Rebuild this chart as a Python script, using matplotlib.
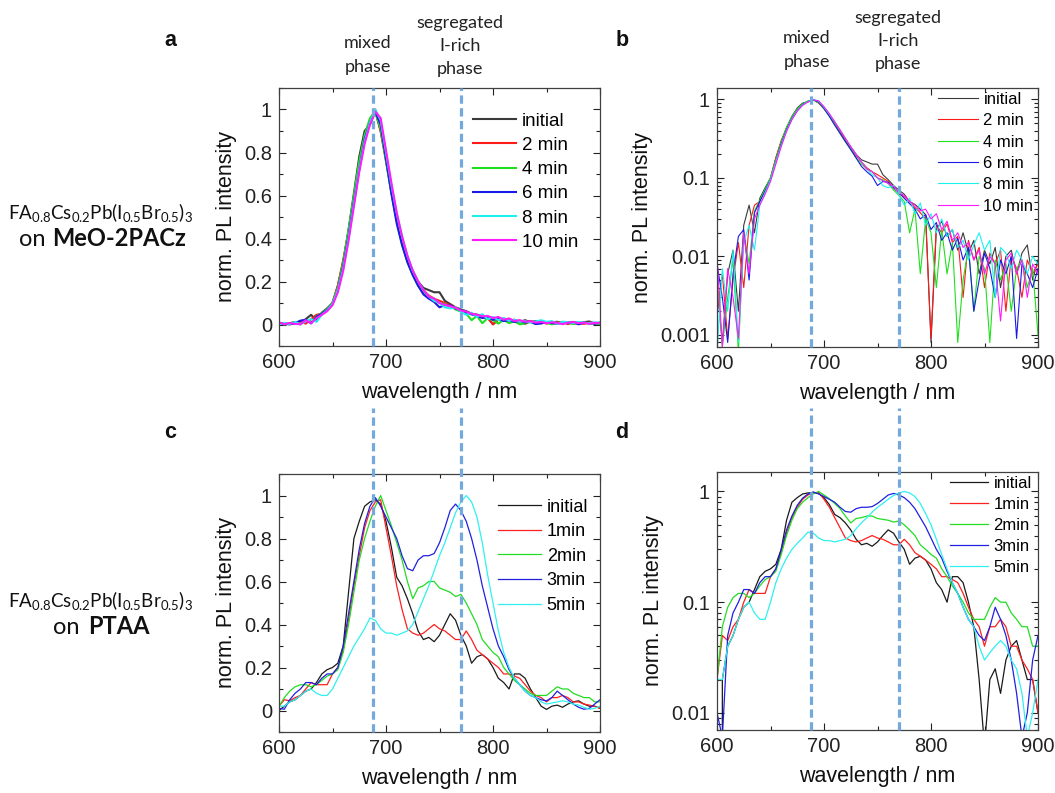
import numpy as np
import matplotlib
matplotlib.use("Agg")
import matplotlib.pyplot as plt
from matplotlib.ticker import MultipleLocator, FuncFormatter, LogLocator, NullFormatter

plt.rcParams['font.family'] = ['Liberation Sans', 'DejaVu Sans']
plt.rcParams['mathtext.fontset'] = 'custom'
plt.rcParams['mathtext.rm'] = 'Lato'
plt.rcParams['mathtext.it'] = 'Lato:italic'
plt.rcParams['mathtext.bf'] = 'Lato:bold'

# ---------------- data ----------------
wavelength = np.arange(600, 901, 5)  # nm grid (61 points)

# FA0.8Cs0.2Pb(I0.5Br0.5)3 on MeO-2PACz
meo_labels = ['initial', '2 min', '4 min', '6 min', '8 min', '10 min']
meo_initial = [0.004, 0.0008, 0.006, 0.012, 0.002, 0.025, 0.045, 0.02, 0.055, 0.075,
               0.1, 0.18, 0.29, 0.44, 0.61, 0.78, 0.9, 0.93, 0.99, 0.9,
               0.77, 0.63, 0.5, 0.4, 0.31, 0.25, 0.2, 0.17, 0.16, 0.15,
               0.15, 0.11, 0.095, 0.08, 0.07, 0.062, 0.05, 0.046, 0.04, 0.034,
               0.0008, 0.022, 0.028, 0.018, 0.022, 0.012, 0.02, 0.011, 0.016, 0.006,
               0.012, 0.008, 0.013, 0.004, 0.01, 0.012, 0.006, 0.011, 0.014, 0.005, 0.009]
meo_2min = [0.002, 0.006, 0.0009, 0.005, 0.015, 0.004, 0.025, 0.045, 0.05, 0.07,
            0.1, 0.18, 0.3, 0.43, 0.59, 0.75, 0.87, 0.95, 1.0, 0.9,
            0.76, 0.62, 0.49, 0.39, 0.3, 0.24, 0.19, 0.16, 0.135, 0.12,
            0.11, 0.1, 0.09, 0.075, 0.062, 0.058, 0.05, 0.042, 0.036, 0.03,
            0.0009, 0.025, 0.02, 0.026, 0.015, 0.018, 0.003, 0.016, 0.009, 0.013,
            0.004, 0.011, 0.008, 0.012, 0.002, 0.01, 0.007, 0.003, 0.009, 0.006, 0.008]
meo_4min = [0.006, 0.0007, 0.003, 0.009, 0.0006, 0.02, 0.008, 0.038, 0.052, 0.072,
            0.1, 0.17, 0.29, 0.44, 0.6, 0.76, 0.88, 0.96, 0.99, 0.91,
            0.76, 0.61, 0.48, 0.37, 0.29, 0.23, 0.18, 0.15, 0.13, 0.12,
            0.1, 0.095, 0.085, 0.07, 0.06, 0.05, 0.02, 0.04, 0.006, 0.03,
            0.02, 0.004, 0.022, 0.006, 0.015, 0.0008, 0.005, 0.013, 0.002, 0.01,
            0.007, 0.0008, 0.009, 0.005, 0.008, 0.002, 0.007, 0.009, 0.004, 0.007, 0.001]
meo_6min = [0.008, 0.003, 0.0008, 0.006, 0.018, 0.022, 0.005, 0.036, 0.05, 0.068,
            0.095, 0.16, 0.27, 0.41, 0.57, 0.72, 0.86, 0.94, 0.99, 0.93,
            0.77, 0.61, 0.47, 0.37, 0.29, 0.23, 0.18, 0.14, 0.12, 0.105,
            0.08, 0.09, 0.088, 0.075, 0.065, 0.055, 0.047, 0.04, 0.03, 0.034,
            0.022, 0.027, 0.016, 0.02, 0.012, 0.017, 0.009, 0.013, 0.002, 0.005,
            0.011, 0.007, 0.003, 0.009, 0.006, 0.01, 0.0009, 0.008, 0.006, 0.004, 0.007]
meo_8min = [0.0006, 0.007, 0.002, 0.012, 0.0008, 0.015, 0.025, 0.012, 0.045, 0.065,
            0.095, 0.16, 0.26, 0.4, 0.56, 0.72, 0.85, 0.94, 1.0, 0.95,
            0.8, 0.65, 0.52, 0.41, 0.32, 0.25, 0.2, 0.16, 0.13, 0.11,
            0.1, 0.08, 0.075, 0.08, 0.06, 0.045, 0.055, 0.035, 0.048, 0.025,
            0.035, 0.02, 0.03, 0.018, 0.022, 0.013, 0.016, 0.009, 0.014, 0.02,
            0.012, 0.016, 0.003, 0.013, 0.011, 0.007, 0.012, 0.009, 0.006, 0.01, 0.008]
meo_10min = [0.01, 0.0007, 0.007, 0.003, 0.0009, 0.02, 0.006, 0.03, 0.045, 0.062,
             0.09, 0.15, 0.25, 0.39, 0.55, 0.71, 0.84, 0.93, 0.99, 0.96,
             0.81, 0.66, 0.52, 0.41, 0.32, 0.25, 0.2, 0.16, 0.13, 0.12,
             0.1, 0.092, 0.085, 0.078, 0.065, 0.06, 0.05, 0.045, 0.038, 0.04,
             0.03, 0.035, 0.022, 0.028, 0.016, 0.02, 0.013, 0.015, 0.009, 0.012,
             0.006, 0.01, 0.008, 0.0015, 0.009, 0.011, 0.006, 0.009, 0.003, 0.008, 0.006]

# FA0.8Cs0.2Pb(I0.5Br0.5)3 on PTAA
ptaa_labels = ['initial', '1min', '2min', '3min', '5min']
ptaa_initial = [0.0, 0.02, 0.04, 0.05, 0.07, 0.09, 0.1, 0.13, 0.17, 0.19,
                0.2, 0.22, 0.3, 0.55, 0.8, 0.88, 0.95, 0.97, 0.98, 0.96,
                0.88, 0.76, 0.62, 0.58, 0.52, 0.45, 0.37, 0.33, 0.34, 0.32,
                0.35, 0.4, 0.45, 0.42, 0.35, 0.3, 0.22, 0.25, 0.26, 0.24,
                0.2, 0.15, 0.13, 0.1, 0.17, 0.17, 0.15, 0.1, 0.06, 0.02,
                0.005, 0.02, 0.025, 0.015, 0.03, 0.04, 0.045, 0.03, 0.02, 0.02, 0.01]
ptaa_1min = [0.02, 0.05, 0.045, 0.06, 0.07, 0.1, 0.13, 0.12, 0.12, 0.12,
             0.17, 0.2, 0.28, 0.42, 0.58, 0.72, 0.85, 0.93, 0.97, 0.98,
             0.85, 0.72, 0.58, 0.47, 0.38, 0.36, 0.35, 0.36, 0.38, 0.4,
             0.38, 0.37, 0.35, 0.33, 0.33, 0.37, 0.33, 0.28, 0.26, 0.24,
             0.22, 0.2, 0.17, 0.17, 0.16, 0.15, 0.12, 0.09, 0.07, 0.06,
             0.04, 0.06, 0.06, 0.07, 0.06, 0.04, 0.04, 0.03, 0.025, 0.02, 0.01]
ptaa_2min = [0.02, 0.06, 0.09, 0.11, 0.12, 0.12, 0.11, 0.12, 0.14, 0.16,
             0.17, 0.19, 0.27, 0.4, 0.55, 0.7, 0.8, 0.88, 0.95, 1.0,
             0.93, 0.86, 0.78, 0.7, 0.6, 0.52, 0.57, 0.58, 0.6, 0.6,
             0.57, 0.56, 0.55, 0.53, 0.54, 0.5, 0.45, 0.4, 0.33, 0.3,
             0.27, 0.25, 0.2, 0.17, 0.14, 0.12, 0.1, 0.08, 0.07, 0.07,
             0.07, 0.09, 0.11, 0.1, 0.1, 0.08, 0.07, 0.06, 0.06, 0.04, 0.04]
ptaa_3min = [0.01, 0.006, 0.05, 0.08, 0.1, 0.13, 0.13, 0.12, 0.15, 0.17,
             0.17, 0.2, 0.3, 0.45, 0.6, 0.75, 0.87, 0.95, 0.99, 0.95,
             0.9, 0.85, 0.8, 0.72, 0.66, 0.65, 0.7, 0.72, 0.72, 0.73,
             0.78, 0.85, 0.93, 0.96, 0.93, 0.88, 0.8, 0.7, 0.58, 0.48,
             0.38, 0.3, 0.25, 0.19, 0.15, 0.12, 0.09, 0.07, 0.06, 0.05,
             0.045, 0.06, 0.09, 0.07, 0.05, 0.03, 0.015, 0.006, 0.01, 0.03, 0.05]
ptaa_5min = [0.02, 0.02, 0.04, 0.05, 0.07, 0.09, 0.1, 0.08, 0.07, 0.07,
             0.1, 0.15, 0.2, 0.25, 0.3, 0.34, 0.38, 0.43, 0.42, 0.38,
             0.36, 0.36, 0.35, 0.36, 0.37, 0.4, 0.46, 0.52, 0.58, 0.65,
             0.72, 0.78, 0.85, 0.92, 0.97, 1.0, 0.97, 0.9, 0.78, 0.63,
             0.5, 0.37, 0.27, 0.2, 0.15, 0.12, 0.09, 0.07, 0.06, 0.04,
             0.03, 0.035, 0.04, 0.045, 0.04, 0.03, 0.025, 0.015, 0.006, 0.01, 0.02]

phase_positions = [688, 770]  # mixed phase, segregated I-rich phase (nm)

colors6 = ['#3a3a3a', '#ff1a1a', '#1ee01e', '#1a1ae6', '#1ef0f0', '#ff1aff']
colors5 = ['#1a1a1a', '#ff2020', '#22dd22', '#2020e0', '#30f0f0']
dash_color = '#74a9dd'

W, H = 1055, 793
fig = plt.figure(figsize=(W / 100, H / 100), dpi=100)


def fr(l, t, r, b):
    return [l / W, 1 - b / H, (r - l) / W, (b - t) / H]


ax_a = fig.add_axes(fr(279, 88, 600, 346))
ax_b = fig.add_axes(fr(717, 88, 1038, 347))
ax_c = fig.add_axes(fr(279, 474, 600, 732))
ax_d = fig.add_axes(fr(717, 472, 1038, 730))

meo_series = [meo_initial, meo_2min, meo_4min, meo_6min, meo_8min, meo_10min]
ptaa_series = [ptaa_initial, ptaa_1min, ptaa_2min, ptaa_3min, ptaa_5min]

fmt = FuncFormatter(lambda v, p: '%g' % v)


def style(ax, log=False):
    ax.set_xlim(600, 900)
    ax.xaxis.set_major_locator(MultipleLocator(100))
    ax.xaxis.set_minor_locator(MultipleLocator(50))
    if log:
        ax.set_yscale('log')
        ax.yaxis.set_major_locator(LogLocator(base=10, numticks=10))
        ax.yaxis.set_minor_locator(LogLocator(base=10, subs=np.arange(2, 10), numticks=10))
        ax.yaxis.set_minor_formatter(NullFormatter())
    else:
        ax.set_ylim(-0.1, 1.1)
        ax.yaxis.set_major_locator(MultipleLocator(0.2))
        ax.yaxis.set_minor_locator(MultipleLocator(0.1))
    ax.yaxis.set_major_formatter(fmt)
    ax.tick_params(which='both', direction='in', top=True, right=True,
                   labelsize=14.5, colors='#222222', width=0.8)
    ax.tick_params(which='major', length=5, pad=5)
    ax.tick_params(which='minor', length=3)
    for s in ax.spines.values():
        s.set_color('#404040')
        s.set_linewidth(0.9)
    ax.set_xlabel('wavelength / nm', fontsize=15.5, labelpad=7, color='#111111')
    ax.set_ylabel('norm. PL intensity', fontsize=15.5, labelpad=5, color='#111111')


# panel a
for ys, c, lab in zip(meo_series, colors6, meo_labels):
    ax_a.plot(wavelength, ys, color=c, lw=1.5, label=lab)
style(ax_a)
ax_a.legend(loc='upper left', bbox_to_anchor=(0.604, 0.905), frameon=False,
            fontsize=13.5, handlelength=2.3, handletextpad=0.3, labelspacing=0.38,
            borderpad=0, borderaxespad=0)

# panel b
for ys, c, lab in zip(meo_series, colors6, meo_labels):
    ax_b.plot(wavelength, ys, color=c, lw=0.8, label=lab)
style(ax_b, log=True)
ax_b.set_ylim(7e-4, 1.4)
ax_b.legend(loc='upper left', bbox_to_anchor=(0.69, 0.985), frameon=False,
            fontsize=12, handlelength=2.4, handletextpad=0.3, labelspacing=0.38,
            borderpad=0, borderaxespad=0)

# panel c
for ys, c, lab in zip(ptaa_series, colors5, ptaa_labels):
    ax_c.plot(wavelength, ys, color=c, lw=0.9, label=lab)
style(ax_c)
ax_c.legend(loc='upper left', bbox_to_anchor=(0.682, 0.905), frameon=False,
            fontsize=13, handlelength=2.4, handletextpad=0.3, labelspacing=0.42,
            borderpad=0, borderaxespad=0)

# panel d
for ys, c, lab in zip(ptaa_series, colors5, ptaa_labels):
    ax_d.plot(wavelength, ys, color=c, lw=0.9, label=lab)
style(ax_d, log=True)
ax_d.set_ylim(0.007, 1.5)
ax_d.legend(loc='upper left', bbox_to_anchor=(0.726, 0.985), frameon=False,
            fontsize=12, handlelength=2.3, handletextpad=0.3, labelspacing=0.36,
            borderpad=0, borderaxespad=0)

# dashed phase markers
for ax, ymax in [(ax_a, 1.0), (ax_b, 1.0), (ax_c, 1.256), (ax_d, 1.25)]:
    for xp in phase_positions:
        ax.axvline(xp, ymin=0, ymax=ymax, color=dash_color, lw=2.3,
                   dashes=(2.6, 1.4), clip_on=False, zorder=10)

# phase annotations
ann = dict(fontsize=13, family='Lato', color='#222222', ha='center', va='center',
           linespacing=1.55)
fig.text(368 / W, 1 - 55 / H, 'mixed\nphase', **ann)
fig.text(460 / W, 1 - 46 / H, 'segregated\nI-rich\nphase', **ann)
fig.text(807 / W, 1 - 50 / H, 'mixed\nphase', **ann)
fig.text(898 / W, 1 - 41 / H, 'segregated\nI-rich\nphase', **ann)

# panel letters
for xl, yl, lt in [(170, 40, 'a'), (622, 40, 'b'), (170, 432, 'c'), (622, 432, 'd')]:
    fig.text(xl / W, 1 - yl / H, lt, fontsize=15.5, fontweight='bold',
             ha='center', va='center', color='#111111')

# sample descriptions
formula = r'FA$_{0.8}$Cs$_{0.2}$Pb(I$_{0.5}$Br$_{0.5}$)$_3$'
for yf, yo, xon, xsub, sub in [(212, 239, 45, 52, 'MeO-2PACz'), (600, 627, 80, 88, 'PTAA')]:
    fig.text(100 / W, 1 - yf / H, formula, fontsize=13.5, family='Lato',
             ha='center', va='center', color='#111111')
    fig.text(xon / W, 1 - yo / H, 'on', fontsize=17, family='Lato',
             ha='right', va='center', color='#111111')
    fig.text(xsub / W, 1 - yo / H, sub, fontsize=17, family='Lato', fontweight='bold',
             ha='left', va='center', color='#111111')

fig.savefig('out.png', dpi=100)
